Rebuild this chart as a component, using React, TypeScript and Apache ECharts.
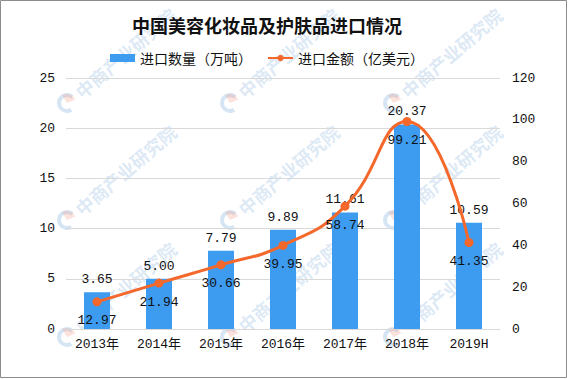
import React, { useEffect, useRef } from "react";
import * as echarts from "echarts";

const categories = ["2013年", "2014年", "2015年", "2016年", "2017年", "2018年", "2019H"];
const volumeValues = [3.65, 5.0, 7.79, 9.89, 11.61, 20.37, 10.59];
const amountValues = [12.97, 21.94, 30.66, 39.95, 58.74, 99.21, 41.35];
const titleText = "中国美容化妆品及护肤品进口情况";
const volumeName = "进口数量（万吨）";
const amountName = "进口金额（亿美元）";
const watermarkText = "中商产业研究院";

const NUM_FONT = "'Liberation Mono', 'Noto Sans CJK SC', monospace";
const CJK_FONT = "'Noto Sans CJK SC', sans-serif";

function buildWatermarks() {
  const cols = [67, 230, 393];
  const rows = [103, 220, 337];
  const out: any[] = [];
  for (const cx of cols) {
    for (const ry of rows) {
      out.push({
        type: "group",
        x: cx,
        y: ry,
        rotation: 0.71,
        silent: true,
        z: 100,
        children: [
          {
            type: "arc",
            shape: { cx: 0, cy: 0, r: 8, startAngle: Math.PI * 0.55, endAngle: Math.PI * 1.95 },
            style: { stroke: "rgba(120,170,215,0.3)", lineWidth: 4, fill: null },
          },
          {
            type: "sector",
            shape: { cx: 0, cy: 0, r0: 0, r: 9, startAngle: -Math.PI * 0.45, endAngle: Math.PI * 0.1 },
            style: { fill: "rgba(240,150,130,0.28)" },
          },
          {
            type: "text",
            x: 14,
            y: 0,
            style: {
              text: watermarkText,
              font: `bold 18px ${CJK_FONT}`,
              fill: "rgba(120,170,215,0.27)",
              verticalAlign: "middle",
              align: "left",
            },
          },
        ],
      });
    }
  }
  return out;
}

export default function App() {
  const ref = useRef<HTMLDivElement>(null);
  useEffect(() => {
    document.body.style.margin = "0";
    if (!ref.current) return;
    const chart = echarts.init(ref.current, null, { renderer: "svg" });
    const legendText = { fontFamily: CJK_FONT, fontSize: 14, color: "#111" };
    chart.setOption({
      animation: false,
      backgroundColor: "#ffffff",
      title: {
        text: titleText,
        left: 262,
        textAlign: "center",
        top: 11,
        textStyle: { fontFamily: CJK_FONT, fontWeight: "bold", fontSize: 18, color: "#111" },
      },
      legend: [
        {
          top: 46,
          left: 105,
          itemWidth: 25,
          itemHeight: 8,
          textStyle: legendText,
          data: [{ name: volumeName, icon: "rect" }],
        },
        {
          top: 46,
          left: 262,
          itemWidth: 25,
          itemHeight: 8,
          textStyle: legendText,
          data: [{ name: amountName }],
        },
      ],
      grid: { left: 66, right: 68, top: 78, bottom: 50 },
      xAxis: {
        type: "category",
        data: categories,
        axisTick: { show: false },
        axisLine: { lineStyle: { color: "#d9d9d9" } },
        axisLabel: { fontFamily: NUM_FONT, fontSize: 13, color: "#111", margin: 9 },
      },
      yAxis: [
        {
          type: "value",
          min: 0,
          max: 25,
          interval: 5,
          axisLine: { show: false },
          axisTick: { show: false },
          splitLine: { lineStyle: { color: "#d9d9d9" } },
          axisLabel: { fontFamily: NUM_FONT, fontSize: 13, color: "#111", margin: 11 },
        },
        {
          type: "value",
          min: 0,
          max: 120,
          interval: 20,
          axisLine: { show: false },
          axisTick: { show: false },
          splitLine: { show: false },
          axisLabel: { fontFamily: NUM_FONT, fontSize: 13, color: "#111", margin: 12 },
        },
      ],
      series: [
        {
          name: volumeName,
          type: "bar",
          data: volumeValues,
          barWidth: 26,
          itemStyle: { color: "#3d9bf0" },
          label: {
            show: true,
            position: "top",
            distance: 6,
            formatter: (p: any) => Number(p.value).toFixed(2),
            fontFamily: NUM_FONT,
            fontSize: 13,
            color: "#111",
          },
        },
        {
          name: amountName,
          type: "line",
          yAxisIndex: 1,
          data: amountValues,
          smooth: 0.5,
          symbol: "circle",
          symbolSize: 9,
          lineStyle: { color: "#f4682c", width: 3 },
          itemStyle: { color: "#f4682c" },
          label: {
            show: true,
            position: "bottom",
            distance: 8,
            formatter: (p: any) => Number(p.value).toFixed(2),
            fontFamily: NUM_FONT,
            fontSize: 13,
            color: "#111",
          },
          z: 5,
        },
      ],
      graphic: [
        ...buildWatermarks(),
        {
          type: "rect",
          silent: true,
          z: 101,
          shape: { x: 0.5, y: 0.5, width: 566, height: 377 },
          style: { fill: null, stroke: "#8c8c8c", lineWidth: 1 },
        },
      ],
    });
    return () => chart.dispose();
  }, []);
  return <div ref={ref} style={{ width: 568, height: 379 }} />;
}
